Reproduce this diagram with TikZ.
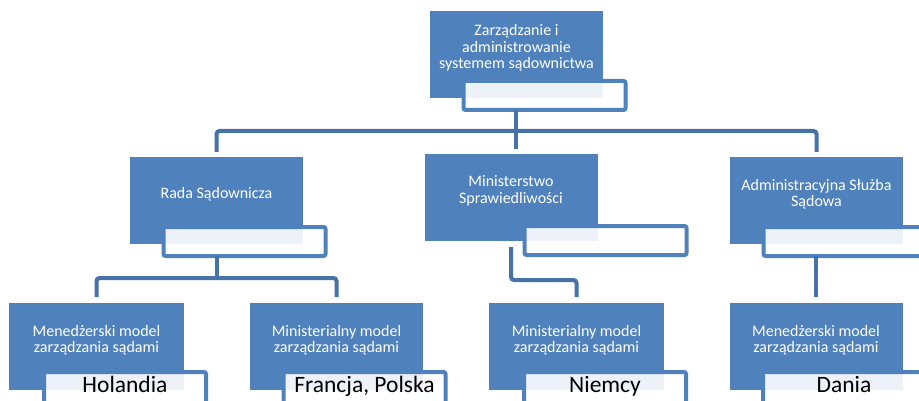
\documentclass[tikz,border=0pt]{standalone}
\usepackage{fontspec}
\setmainfont{Carlito}
\usetikzlibrary{positioning}
\definecolor{boxblue}{HTML}{4F81BD}
\definecolor{linkblue}{HTML}{4672A8}
\tikzset{
  unitbox/.style={fill=boxblue, minimum width=173pt, minimum height=87pt, inner sep=0pt, outer sep=0pt},
  unittext/.style={text=white, align=center, font=\fontsize{16}{16.5}\selectfont, inner sep=0pt},
  tagbox/.style={draw=boxblue, line width=4pt, fill=white, fill opacity=0.9, text opacity=1, rounded corners=2pt, minimum width=162pt, minimum height=29pt, inner sep=0pt, outer sep=0pt, anchor=north west, font=\fontsize{23.5}{24}\selectfont},
  cuttag/.style={tagbox, minimum height=35pt, text depth=9pt, text height=14pt},
  link/.style={draw=linkblue, line width=4pt, rounded corners=3pt}
}

\begin{document}
\begin{tikzpicture}[x=1pt, y=-1pt]
  \useasboundingbox (0,0) rectangle (919,401);
  \clip (0,0) rectangle (919,401);
  % blue boxes
  \node[unitbox] (top) at (516.5,54.5) {};
  \node[unitbox] (rada) at (216.5,200.5) {};
  \node[unitbox] (min) at (511,197.5) {};
  \node[unitbox] (adm) at (816.5,200.5) {};
  \node[unitbox, minimum width=175pt] (hol) at (96.5,346.5) {};
  \node[unitbox] (fr) at (336.5,346.5) {};
  \node[unitbox, minimum width=175pt] (nie) at (576.5,346.5) {};
  \node[unitbox] (dan) at (816,346.5) {};
  % box texts
  \node[unittext] (toptxt) at ([yshift=6.5pt]top.center) {Zarządzanie i\\administrowanie\\systemem sądownictwa};
  \node[unittext] (radatxt) at ([yshift=6.5pt]rada.center) {Rada Sądownicza};
  \node[unittext] (mintxt) at ([yshift=6.5pt]min.center) {Ministerstwo\\Sprawiedliwości};
  \node[unittext] (admtxt) at ([yshift=6.5pt]adm.center) {Administracyjna Służba\\Sądowa};
  \node[unittext] (holtxt) at ([yshift=6.5pt]hol.center) {Menedżerski model\\zarządzania sądami};
  \node[unittext] (frtxt) at ([yshift=6.5pt]fr.center) {Ministerialny model\\zarządzania sądami};
  \node[unittext] (nietxt) at ([yshift=6.5pt]nie.center) {Ministerialny model\\zarządzania sądami};
  \node[unittext] (dantxt) at ([yshift=6.5pt]dan.center) {Menedżerski model\\zarządzania sądami};
  % tags
  \node[tagbox] (toptag) at ([xshift=33.5pt, yshift=17pt]top.south west) {};
  \node[tagbox] (radatag) at ([xshift=33.5pt, yshift=17pt]rada.south west) {};
  \node[tagbox] (mintag) at ([xshift=100pt, yshift=15pt]min.south west) {};
  \node[tagbox] (admtag) at ([xshift=33.5pt, yshift=17pt]adm.south west) {};
  \node[cuttag] (holtag) at ([xshift=35pt, yshift=18pt]hol.south west) {Holandia};
  \node[cuttag] (frtag) at ([xshift=33.5pt, yshift=18pt]fr.south west) {Francja, Polska};
  \node[cuttag] (nietag) at ([xshift=35pt, yshift=18pt]nie.south west) {Niemcy};
  \node[cuttag] (dantag) at ([xshift=33.5pt, yshift=18pt]dan.south west) {Dania};
  % connectors
  \coordinate (topjoin) at (516,131);
  \draw[link] (toptag.south -| topjoin) -- (topjoin);
  \draw[link] ([yshift=5pt]rada.north) |- (topjoin) -| ([yshift=5pt]adm.north);
  \draw[link] (topjoin) -- ([yshift=5pt]min.north -| topjoin);
  \coordinate (radajoin) at (216.5,278);
  \draw[link] (radatag.south -| radajoin) -- (radajoin);
  \draw[link] ([yshift=6pt]hol.north) |- (radajoin) -| ([yshift=6pt]fr.north);
  \coordinate (minbend) at (511,280);
  \draw[link] ([yshift=-6pt]min.south) -- (minbend) -| ([yshift=6pt]nie.north);
  \draw[link] (admtag.south -| dan.north) -- ([yshift=6pt]dan.north);
\end{tikzpicture}
\end{document}
